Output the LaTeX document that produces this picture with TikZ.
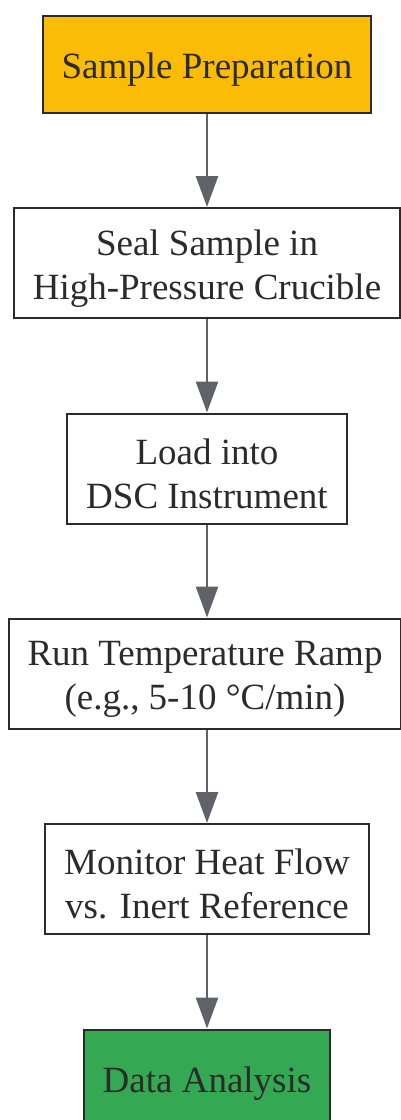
\documentclass[tikz,border=0pt]{standalone}
\usepackage{fontspec}
\setmainfont{Liberation Serif}
\usetikzlibrary{arrows.meta}
\definecolor{prepfill}{HTML}{FBBC05}
\definecolor{donefill}{HTML}{34A853}
\definecolor{edgegray}{HTML}{5F6368}
\definecolor{boxline}{HTML}{2B2B2B}
\tikzset{>=latex}
\newcommand{\topgap}{\rule{0pt}{36pt}}
\begin{document}
\begin{tikzpicture}[
		stepbox/.style = {draw=boxline, line width=2pt, fill=white,
			text=boxline, align=center, inner xsep=19pt, inner ysep=0pt,
			font=\fontsize{37pt}{44pt}\selectfont},
		onebox/.style = {stepbox, minimum height=97pt},
		twobox/.style = {stepbox, minimum height=110pt},
		flow/.style = {draw=edgegray, line width=2.5pt,
			-{Triangle[length=31pt,width=22pt,fill=edgegray]}},
	]
	\useasboundingbox (0pt,0pt) rectangle (400pt,-1120pt);
	\node[onebox, fill=prepfill] (prep) at (207pt,-64.5pt) {\topgap Sample Preparation};
	\node[twobox] (seal) at (207pt,-263pt) {\topgap Seal Sample in\\High-Pressure Crucible};
	\node[twobox] (load) at (207pt,-468.5pt) {\topgap Load into\\DSC Instrument};
	\node[twobox] (ramp) at (205pt,-673.5pt) {\topgap Run Temperature Ramp\\(e.g., 5-10 °C/min)};
	\node[twobox] (monitor) at (207pt,-879pt) {\topgap Monitor Heat Flow\\vs. Inert Reference};
	\node[onebox, fill=donefill] (analysis) at (207pt,-1078pt) {\topgap Data Analysis};
	\foreach \a/\b in {prep/seal, seal/load, load/ramp, ramp/monitor, monitor/analysis}
	{
		\draw[flow] (\a.south -| 207pt,0) -- (\b.north -| 207pt,0);
	};
\end{tikzpicture}
\end{document}
